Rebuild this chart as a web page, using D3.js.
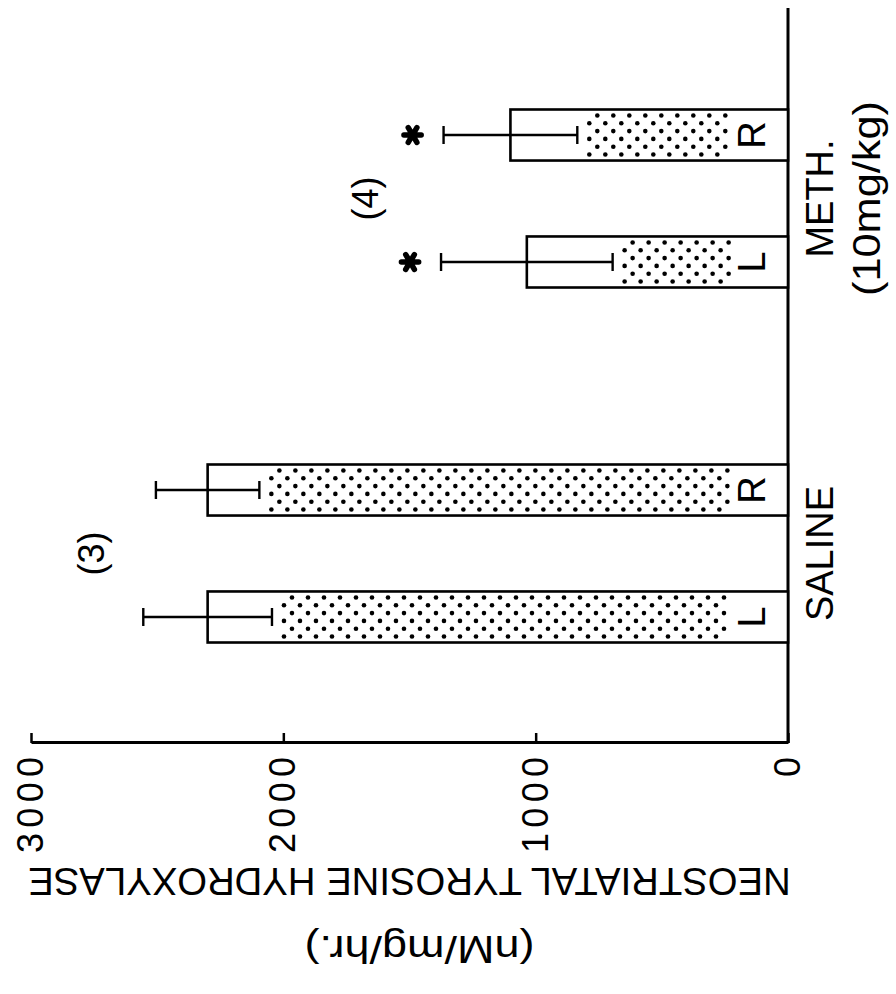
<!DOCTYPE html>
<html>
<head>
<meta charset="utf-8">
<script src="https://cdn.jsdelivr.net/npm/d3@7"></script>
<style>
  html, body { margin: 0; padding: 0; background: #fff; }
  svg { display: block; font-family: "Liberation Sans", Arial, sans-serif; }
</style>
</head>
<body>
<svg id="chart" width="896" height="994"></svg>
<script>
// Treatment groups, hemispheres and per-bar values (mean ± s.e.m.)
const groups = ["SALINE", "METH."];
const groupDose = ["", "(10mg/kg)"];
const groupN = ["(3)", "(4)"];
const sides = ["L", "R"];
const salineMeans = [2300, 2300];
const salineErrs = [255, 205];
const methMeans = [1035, 1100];
const methErrs = [340, 265];
const salineStars = [false, false];
const methStars = [true, true];
const valueTicks = [0, 1000, 2000, 3000];
const yTitle = "NEOSTRIATAL TYROSINE HYDROXYLASE";
const yUnits = "(nM/mg/hr.)";

const means = [salineMeans, methMeans];
const errs = [salineErrs, methErrs];
const stars = [salineStars, methStars];

const rows = groups.flatMap((g, gi) => sides.map((s, si) => ({
  group: g, side: s, mean: means[gi][si], err: errs[gi][si], star: stars[gi][si]
})));

const svg = d3.select("#chart");
svg.append("rect").attr("width", 896).attr("height", 994).attr("fill", "#fff");

// The figure is a vertical bar chart turned a quarter-turn counter-clockwise.
const H = 757;      // value-axis length
const W = 735;      // category-axis length
const plot = svg.append("g").attr("transform", "translate(31,743) rotate(-90)");

const y = d3.scaleLinear().domain([0, 3000]).range([H, 0]);
const gx = d3.scaleBand().domain(groups).range([12, 722]);
const sx = d3.scaleBand().domain(sides).range([0, gx.bandwidth()])
  .paddingInner(0.598).paddingOuter(0.697);
const barX = d => gx(d.group) + sx(d.side);
const barMid = d => barX(d) + sx.bandwidth() / 2;

// value axis
const yAxis = plot.append("g")
  .call(d3.axisLeft(y).tickValues(valueTicks).tickFormat(d3.format("d"))
    .tickSizeInner(-10).tickSizeOuter(0).tickPadding(14));
yAxis.select(".domain").attr("stroke", "#000").attr("stroke-width", 3);
yAxis.selectAll(".tick line").attr("stroke", "#000").attr("stroke-width", 2.5);
yAxis.selectAll(".tick text")
  .attr("fill", "#000")
  .style("font-family", "'Liberation Sans', Arial, sans-serif")
  .style("font-size", "36px")
  .attr("textLength", d => d >= 1000 ? 96 : null)
  .attr("lengthAdjust", "spacing");

// category axis
plot.append("line")
  .attr("x1", 0).attr("x2", W).attr("y1", H).attr("y2", H)
  .attr("stroke", "#000").attr("stroke-width", 3);

// bars
const bars = plot.append("g").selectAll("g").data(rows).join("g");
bars.append("rect")
  .attr("x", d => barX(d))
  .attr("y", d => y(d.mean))
  .attr("width", sx.bandwidth())
  .attr("height", d => H - y(d.mean))
  .attr("fill", "#fff")
  .attr("stroke", "#000")
  .attr("stroke-width", 2.6);

// stippled fill between the lower whisker and the hemisphere letter
const nRows = 6, inset = 6;
bars.each(function(d) {
  const rowGap = (sx.bandwidth() - 2 * inset) / (nRows - 1);
  const v0 = y(d.mean - d.err) + 12;
  const v1 = H - 58;
  const pts = [];
  d3.range(nRows).forEach(i => {
    d3.range(v0 + (i % 2) * 8, v1, 16).forEach(v => {
      pts.push([barX(d) + inset + i * rowGap, v]);
    });
  });
  d3.select(this).append("g").selectAll("circle").data(pts).join("circle")
    .attr("cx", p => p[0]).attr("cy", p => p[1]).attr("r", 2.3).attr("fill", "#000");
});

// error bars
const cap = 9;
bars.append("line")
  .attr("x1", barMid).attr("x2", barMid)
  .attr("y1", d => y(d.mean - d.err)).attr("y2", d => y(d.mean + d.err))
  .attr("stroke", "#000").attr("stroke-width", 2.4);
bars.selectAll("line.cap").data(d => [d.mean - d.err, d.mean + d.err].map(v => ({v, d})))
  .join("line").attr("class", "cap")
  .attr("x1", e => barMid(e.d) - cap).attr("x2", e => barMid(e.d) + cap)
  .attr("y1", e => y(e.v)).attr("y2", e => y(e.v))
  .attr("stroke", "#000").attr("stroke-width", 2.4);

// hemisphere letters
bars.append("text")
  .attr("x", barMid)
  .attr("y", H - 23)
  .attr("text-anchor", "middle")
  .style("font-size", "38px")
  .text(d => d.side);

// significance marks
bars.filter(d => d.star).append("path")
  .attr("transform", d => `translate(${barMid(d)},${y(d.mean + d.err) - 31})`)
  .attr("d", d3.symbol(d3.symbolAsterisk, 210))
  .attr("fill", "none")
  .attr("stroke", "#000")
  .attr("stroke-width", 5.5)
  .attr("stroke-linecap", "round");

// n per group
plot.append("g").selectAll("text").data(groups).join("text")
  .attr("x", g => gx(g) + gx.bandwidth() / 2)
  .attr("y", g => {
    const members = rows.filter(r => r.group === g);
    const top = d3.max(members, r => r.mean + r.err);
    const extra = members.some(r => r.star) ? 24 : 0;
    return y(top) - 39 - extra;
  })
  .attr("text-anchor", "middle")
  .style("font-size", "36px")
  .text((g, gi) => groupN[gi]);

// group names
plot.append("g").selectAll("text").data(groups).join("text")
  .attr("x", g => gx(g) + gx.bandwidth() / 2)
  .attr("y", H + 45)
  .attr("text-anchor", "middle")
  .style("font-size", "38px")
  .text(g => g);
plot.append("g").selectAll("text").data(groups.filter((g, i) => groupDose[i]))
  .join("text")
  .attr("x", g => gx(g) + gx.bandwidth() / 2)
  .attr("y", H + 92)
  .attr("text-anchor", "middle")
  .style("font-size", "38px")
  .attr("textLength", 195)
  .attr("lengthAdjust", "spacingAndGlyphs")
  .text(g => groupDose[groups.indexOf(g)]);

// value-axis title
const title = plot.append("g").attr("transform", `translate(-125,${H / 2}) rotate(-90)`);
title.append("text")
  .attr("text-anchor", "middle")
  .style("font-size", "38.3px")
  .text(yTitle);
title.append("text")
  .attr("x", -10)
  .attr("y", -68)
  .attr("text-anchor", "middle")
  .style("font-size", "38px")
  .attr("textLength", 230)
  .attr("lengthAdjust", "spacingAndGlyphs")
  .text(yUnits);
</script>
</body>
</html>
